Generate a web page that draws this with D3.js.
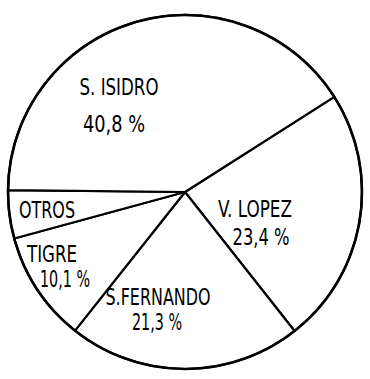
<!DOCTYPE html>
<html>
<head>
<meta charset="utf-8">
<script src="https://cdn.jsdelivr.net/npm/d3@7"></script>
<style>
  html, body { margin: 0; padding: 0; background: #fff; }
  svg { display: block; }
  text { font-family: "DejaVu Sans Condensed", "DejaVu Sans", sans-serif; font-stretch: condensed; fill: #000; }
</style>
</head>
<body>
<svg id="chart" width="370" height="379"></svg>
<script>
// Participación por partido (porcentaje del total)
const partidos    = ["V. LOPEZ", "S.FERNANDO", "TIGRE", "OTROS", "S. ISIDRO"];
const porcentajes = [23.4, 21.3, 10.1, 4.4, 40.8];
const rotulosPct  = ["23,4 %", "21,3 %", "10,1 %", null, "40,8 %"];

// Ubicación de los rótulos, en píxeles respecto del centro del círculo
const posNombre = [[70, 25], [-27, 113], [-133, 70], [-138, 26], [-66, -97]];
const posPct    = [[76, 53], [-28, 138], [-120, 95], null, [-71, -60]];
// Ancho de cada rótulo
const anchoNombre = [74, 105, 50, 56, 79];
const anchoPct    = [57, 50, 50, null, 62];

const cx = 185, cy = 192, radio = 177;
const inicio = 57.5 * Math.PI / 180;

const svg = d3.select("#chart");
const g = svg.append("g").attr("transform", `translate(${cx},${cy})`);

const datos = partidos.map((p, i) => ({ partido: p, valor: porcentajes[i], pct: rotulosPct[i], i }));

const pie = d3.pie()
  .sort(null)
  .value(d => d.valor)
  .startAngle(inicio)
  .endAngle(inicio + 2 * Math.PI);

const arco = d3.arc().innerRadius(0).outerRadius(radio);

// Sectores
g.selectAll("path.sector")
  .data(pie(datos))
  .join("path")
  .attr("class", "sector")
  .attr("d", arco)
  .attr("fill", "#fff")
  .attr("stroke", "#000")
  .attr("stroke-width", 2.2)
  .attr("stroke-linejoin", "round");

// Contorno
g.append("circle")
  .attr("r", radio)
  .attr("fill", "none")
  .attr("stroke", "#000")
  .attr("stroke-width", 2.6);

// Rótulos
const rotulos = g.selectAll("g.rotulo")
  .data(datos)
  .join("g")
  .attr("class", "rotulo");

rotulos.append("text")
  .attr("x", d => posNombre[d.i][0])
  .attr("y", d => posNombre[d.i][1])
  .attr("text-anchor", "middle")
  .attr("font-size", 23)
  .attr("textLength", d => anchoNombre[d.i])
  .attr("lengthAdjust", "spacingAndGlyphs")
  .text(d => d.partido);

rotulos.filter(d => d.pct)
  .append("text")
  .attr("x", d => posPct[d.i][0])
  .attr("y", d => posPct[d.i][1])
  .attr("text-anchor", "middle")
  .attr("font-size", 23)
  .attr("textLength", d => anchoPct[d.i])
  .attr("lengthAdjust", "spacingAndGlyphs")
  .text(d => d.pct);
</script>
</body>
</html>
